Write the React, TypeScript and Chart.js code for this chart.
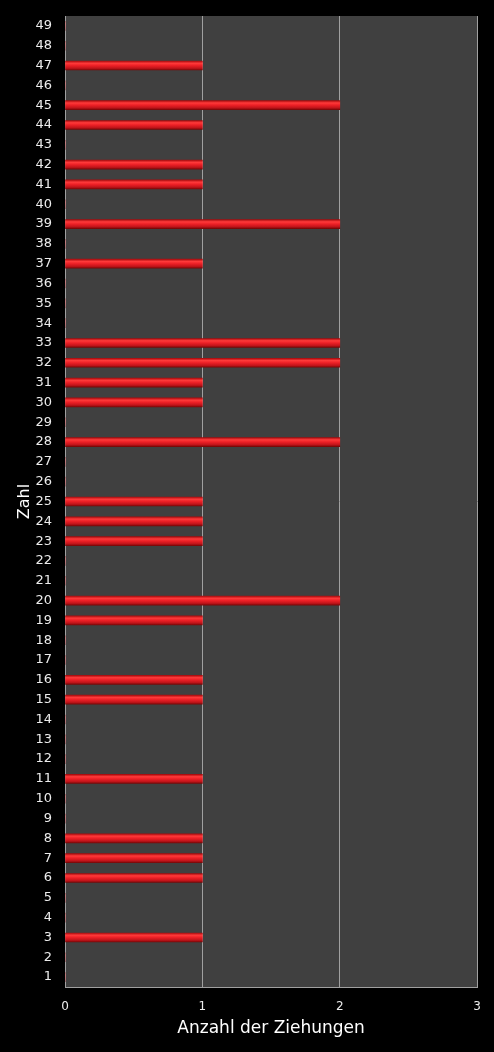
import React, { useEffect, useRef } from "react";
import { Chart, registerables } from "chart.js";

Chart.register(...registerables);

const numbers: string[] = [
  "1", "2", "3", "4", "5", "6", "7", "8", "9", "10",
  "11", "12", "13", "14", "15", "16", "17", "18", "19", "20",
  "21", "22", "23", "24", "25", "26", "27", "28", "29", "30",
  "31", "32", "33", "34", "35", "36", "37", "38", "39", "40",
  "41", "42", "43", "44", "45", "46", "47", "48", "49",
];

const draws: number[] = [
  0, 0, 1, 0, 0, 1, 1, 1, 0, 0,
  1, 0, 0, 0, 1, 1, 0, 0, 1, 2,
  0, 0, 1, 1, 1, 0, 0, 2, 0, 1,
  1, 2, 2, 0, 0, 0, 1, 0, 2, 0,
  1, 1, 0, 1, 2, 0, 1, 0, 0,
];

const xMin = 0;
const xMax = 3;
const yTitle = "Zahl";
const xTitle = "Anzahl der Ziehungen";

const BAR_H = 9;

const plotBg = {
  id: "plotBg",
  beforeDraw(chart: any) {
    const { ctx, chartArea: a } = chart;
    ctx.save();
    ctx.fillStyle = "#000000";
    ctx.fillRect(0, 0, chart.width, chart.height);
    ctx.fillStyle = "#404040";
    ctx.fillRect(a.left, a.top, a.right - a.left, a.bottom - a.top);
    ctx.restore();
  },
};

export default function App() {
  const ref = useRef<HTMLCanvasElement | null>(null);

  useEffect(() => {
    document.body.style.margin = "0";
    document.body.style.background = "#000";
    const canvas = ref.current;
    if (!canvas) return;
    const chart = new Chart(canvas, {
      type: "bar",
      data: {
        labels: numbers,
        datasets: [
          {
            data: draws,
            barThickness: BAR_H,
            borderWidth: 0,
            backgroundColor: (c: any) => {
              const ch = c.chart;
              const ys = ch.scales && ch.scales.y;
              if (!ys || c.type !== "data") return "#e01a1a";
              const y = ys.getPixelForValue(c.index);
              if (!Number.isFinite(y)) return "#e01a1a";
              const g = ch.ctx.createLinearGradient(0, y - BAR_H / 2, 0, y + BAR_H / 2);
              g.addColorStop(0, "#a80c0e");
              g.addColorStop(0.25, "#ff3a3a");
              g.addColorStop(0.5, "#ec2026");
              g.addColorStop(0.8, "#c0141a");
              g.addColorStop(1, "#7a0808");
              return g;
            },
          },
        ],
      },
      options: {
        indexAxis: "y",
        responsive: false,
        animation: false,
        layout: { padding: { top: 16, right: 16, left: 0, bottom: 0 } },
        plugins: {
          legend: { display: false },
          tooltip: { enabled: false },
        },
        scales: {
          y: {
            reverse: true,
            grid: { display: false, drawTicks: false },
            border: { display: true, color: "#a0a0a0" },
            ticks: {
              color: "#ececec",
              padding: 13,
              font: { family: "DejaVu Sans", size: 13 },
              autoSkip: false,
            },
            title: {
              display: true,
              text: yTitle,
              color: "#ffffff",
              font: { family: "DejaVu Sans", size: 16 },
              padding: { top: 15, bottom: 0 },
            },
            afterFit: (s: any) => {
              s.width = 65;
              s.paddingTop = 0;
              s.paddingBottom = 0;
            },
          },
          x: {
            min: xMin,
            max: xMax,
            grid: { color: "#a0a0a0", drawTicks: false, lineWidth: 1 },
            border: { display: true, color: "#a0a0a0" },
            ticks: {
              stepSize: 1,
              color: "#ececec",
              padding: 13,
              font: { family: "DejaVu Sans", size: 12 },
            },
            title: {
              display: true,
              text: xTitle,
              color: "#ffffff",
              font: { family: "DejaVu Sans", size: 17 },
              padding: { top: 0, bottom: 13 },
            },
            afterFit: (s: any) => {
              s.height = 65;
            },
          },
        },
      } as any,
      plugins: [plotBg],
    });
    return () => chart.destroy();
  }, []);

  return (
    <div style={{ width: 494, height: 1052, background: "#000" }}>
      <canvas ref={ref} width={494} height={1052} style={{ display: "block" }} />
    </div>
  );
}
